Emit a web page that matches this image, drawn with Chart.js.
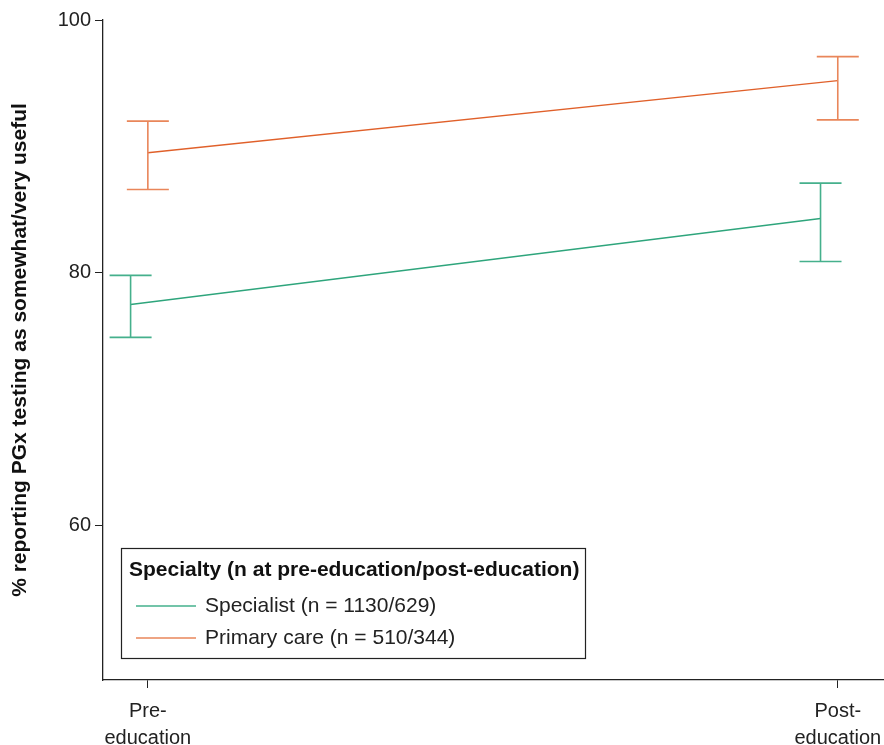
<!DOCTYPE html>
<html>
<head>
<meta charset="utf-8">
<script src="https://cdn.jsdelivr.net/npm/chart.js@4"></script>
<style>
	body { margin: 0; background: #fff; }
	#wrap { width: 884px; height: 745px; }
</style>
</head>
<body>
<div id="wrap"><canvas id="c" width="884" height="745"></canvas></div>
<script>
// data
const tickLabels = [['Pre-', 'education'], ['Post-', 'education']];
const seriesNames = ['Specialist (n = 1130/629)', 'Primary care (n = 510/344)'];
const specialistMean = [77.5, 84.3];
const specialistLow = [74.9, 80.9];
const specialistHigh = [79.8, 87.1];
const primaryMean = [89.5, 95.2];
const primaryLow = [86.6, 92.1];
const primaryHigh = [92.0, 97.1];
const yTicks = [60, 80, 100];

const green = '#2ea57c';
const orange = '#e0602a';
const dodge = [-0.025, 0];
const font = '"Liberation Sans", Arial, sans-serif';

function points(mean, low, high, shift) {
	return mean.map((m, i) => ({ x: i + shift, y: m, lo: low[i], hi: high[i] }));
}

// error bars drawn through the scales
const errorBars = {
	id: 'errorBars',
	afterDatasetsDraw(chart) {
		const { ctx, scales: { x, y } } = chart;
		chart.data.datasets.forEach(ds => {
			ctx.save();
			ctx.strokeStyle = ds.barColor;
			ctx.lineWidth = 1.6;
			ds.data.forEach(p => {
				const px = x.getPixelForValue(p.x);
				const top = y.getPixelForValue(p.hi);
				const bot = y.getPixelForValue(p.lo);
				ctx.beginPath();
				ctx.moveTo(px, top); ctx.lineTo(px, bot);
				ctx.moveTo(px - 21, top); ctx.lineTo(px + 21, top);
				ctx.moveTo(px - 21, bot); ctx.lineTo(px + 21, bot);
				ctx.stroke();
			});
			ctx.restore();
		});
	}
};

// boxed legend inside the plot
const boxLegend = {
	id: 'boxLegend',
	afterDraw(chart) {
		const ctx = chart.ctx;
		const l = 121, t = 548, w = 464, h = 110;
		ctx.save();
		ctx.fillStyle = '#fff';
		ctx.fillRect(l, t, w, h);
		ctx.strokeStyle = '#222';
		ctx.lineWidth = 1.2;
		ctx.strokeRect(l + 0.5, t + 0.5, w, h);
		ctx.fillStyle = '#111';
		ctx.textBaseline = 'middle';
		ctx.font = `bold 21px ${font}`;
		ctx.fillText('Specialty (n at pre-education/post-education)', l + 8, t + 22);
		ctx.font = `21px ${font}`;
		chart.data.datasets.forEach((ds, i) => {
			const yy = t + 58 + i * 32;
			ctx.strokeStyle = ds.barColor;
			ctx.lineWidth = 1.6;
			ctx.beginPath();
			ctx.moveTo(l + 15, yy); ctx.lineTo(l + 75, yy);
			ctx.stroke();
			ctx.fillStyle = '#222';
			ctx.fillText(ds.label, l + 84, yy);
		});
		ctx.restore();
	}
};

new Chart(document.getElementById('c'), {
	type: 'line',
	data: {
		datasets: [
			{
				label: seriesNames[0],
				data: points(specialistMean, specialistLow, specialistHigh, dodge[0]),
				borderColor: green,
				barColor: '#45b08c',
				borderWidth: 1.3,
				pointRadius: 0,
			},
			{
				label: seriesNames[1],
				data: points(primaryMean, primaryLow, primaryHigh, dodge[1]),
				borderColor: orange,
				barColor: '#e9865a',
				borderWidth: 1.3,
				pointRadius: 0,
			},
		],
	},
	options: {
		responsive: false,
		animation: false,
		layout: { padding: { top: 20, right: 0, left: 0, bottom: 0 } },
		plugins: { legend: { display: false }, tooltip: { enabled: false } },
		scales: {
			x: {
				type: 'linear',
				min: -0.065,
				max: 1.067,
				afterBuildTicks: s => { s.ticks = [{ value: 0 }, { value: 1 }]; },
				afterFit: s => { s.height = 65; s.paddingLeft = 0; s.paddingRight = 0; },
				ticks: {
					callback: v => tickLabels[v],
					font: { family: font, size: 20, lineHeight: 1.35 },
					color: '#222',
					padding: 10,
					maxRotation: 0,
					autoSkip: false,
				},
				grid: { drawOnChartArea: false, drawTicks: true, tickLength: 8, color: '#222' },
				border: { color: '#222', width: 1.3 },
			},
			y: {
				min: 47.8,
				max: 100,
				afterBuildTicks: s => { s.ticks = yTicks.map(v => ({ value: v })); },
				afterFit: s => { s.width = 103; },
				ticks: {
					font: { family: font, size: 20 },
					color: '#222',
					padding: 4,
				},
				grid: { drawOnChartArea: false, drawTicks: true, tickLength: 8, color: '#222' },
				border: { color: '#222', width: 1.3 },
				title: {
					display: true,
					text: '% reporting PGx testing as somewhat/very useful',
					font: { family: font, size: 21, weight: 'bold' },
					color: '#111',
					padding: { top: 8, bottom: 0 },
				},
			},
		},
	},
	plugins: [errorBars, boxLegend],
});
</script>
</body>
</html>
